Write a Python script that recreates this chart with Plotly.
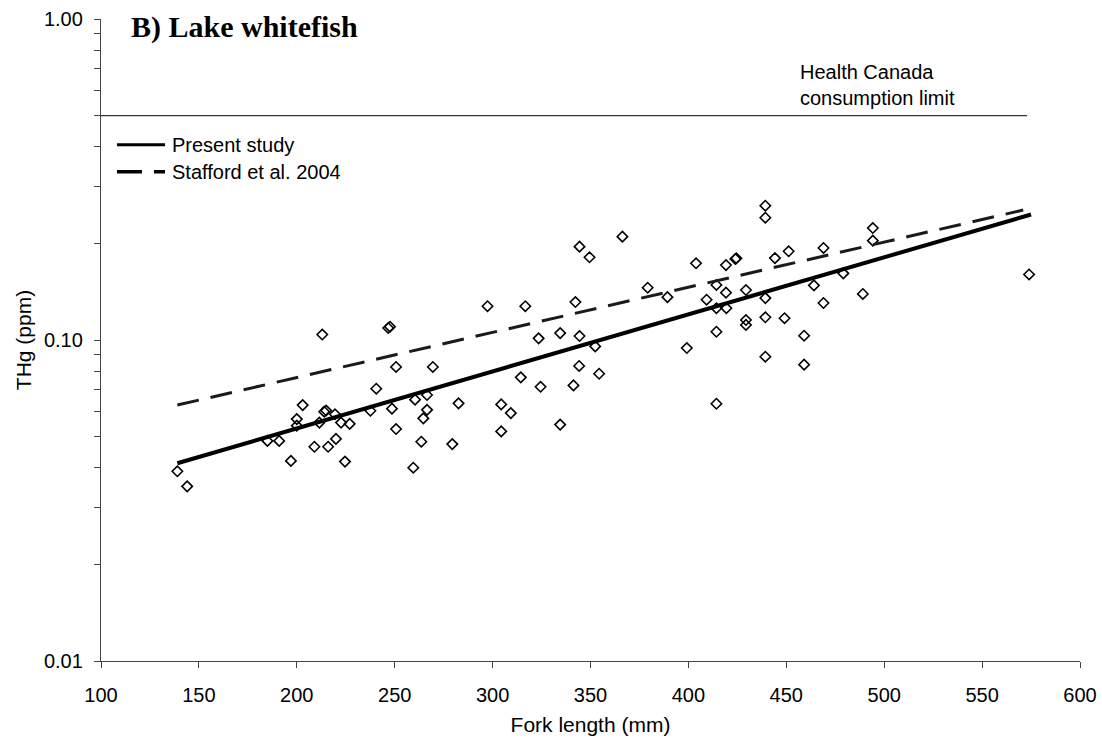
import math
import plotly.graph_objects as go

# Fork length (mm) and total mercury (ppm) of individual lake whitefish
fork_length = [139, 144, 185, 191, 197, 200, 200, 203, 209, 211.5, 213, 214, 215, 216,
               219.5, 220, 222.6, 224.6, 227, 237.6, 240.6, 246.7, 247.6, 248.6, 250.7,
               250.7, 259.5, 260.4, 263.6, 264.6, 266.5, 266.5, 269.5, 279.4, 282.6,
               297.4, 304.4, 304.4, 309.3, 314.4, 316.7, 323.5, 324.5, 334.5, 334.5,
               341.3, 342.3, 344.4, 344.4, 344.2, 349.5, 352.4, 354.4, 366.3, 379.2,
               389.3, 399.2, 403.9, 409.3, 414.3, 414.3, 414.3, 414.3, 419.2, 419.2,
               419.4, 424, 424.5, 429.4, 429.4, 429.4, 439.3, 439.3, 439.3, 439.3,
               439.3, 444.2, 449.1, 451.2, 459.1, 459.1, 464.1, 469.0, 469.0, 479.1,
               489.1, 494.2, 494.2, 574]
thg = [0.039, 0.035, 0.0485, 0.0485, 0.042, 0.0567, 0.0541, 0.0627, 0.0465, 0.0553,
       0.104, 0.0598, 0.0603, 0.0465, 0.0587, 0.0492, 0.0553, 0.0418, 0.0548, 0.0602,
       0.0705, 0.109, 0.110, 0.0611, 0.0824, 0.0528, 0.040, 0.0652, 0.0482, 0.0570,
       0.0674, 0.0606, 0.0824, 0.0474, 0.0635, 0.1274, 0.0630, 0.0519, 0.0592, 0.0765,
       0.1274, 0.1012, 0.0715, 0.1051, 0.0545, 0.0722, 0.1313, 0.1953, 0.1029, 0.0830,
       0.181, 0.0955, 0.0785, 0.2099, 0.1455, 0.136, 0.0944, 0.1734, 0.1335, 0.1484,
       0.1256, 0.1061, 0.0633, 0.1712, 0.1404, 0.1256, 0.1788, 0.1797, 0.1431, 0.1154,
       0.1114, 0.262, 0.2404, 0.1351, 0.1177, 0.0887, 0.180, 0.1169, 0.189, 0.1031,
       0.0838, 0.148, 0.1935, 0.1304, 0.1613, 0.1391, 0.2233, 0.2039, 0.160]

# Fitted length-mercury relationships (end points)
present_x = [139, 575]
present_y = [0.0413, 0.246]
stafford_x = [139, 571]
stafford_y = [0.0627, 0.254]

# Health Canada consumption guideline
limit_value = 0.5
limit_x = [100, 573]
limit_y = [limit_value, limit_value]

x_ticks = [100, 150, 200, 250, 300, 350, 400, 450, 500, 550, 600]
y_ticks = [0.01, 0.1, 1.0]
y_tick_text = ["0.01", "0.10", "1.00"]

legend_names = ["Present study", "Stafford et al. 2004"]

AXIS_COLOR = "#444444"
FONT = "Liberation Sans, Arial, sans-serif"

fig = go.Figure()

fig.add_trace(go.Scatter(
    x=fork_length, y=thg, mode="markers", showlegend=False,
    marker=dict(symbol="diamond-open", size=8, color="black",
                line=dict(width=1.6, color="black")),
    hoverinfo="x+y",
))

fig.add_trace(go.Scatter(
    x=limit_x, y=limit_y, mode="lines", showlegend=False,
    line=dict(color="#333333", width=1.3),
))

fig.add_trace(go.Scatter(
    x=present_x, y=present_y, mode="lines", name=legend_names[0], showlegend=False,
    line=dict(color="black", width=4),
))

fig.add_trace(go.Scatter(
    x=stafford_x, y=stafford_y, mode="lines", name=legend_names[1], showlegend=False,
    line=dict(color="#1a1a1a", width=3, dash="22px,12px"),
))

# Key drawn inside the upper-left corner of the plot
key_rows = [(0.804, "solid", 3), (0.762, "25px,12px", 3.6)]
for (ky, dash, width), name in zip(key_rows, legend_names):
    fig.add_shape(type="line", xref="paper", yref="paper",
                  x0=0.0163, x1=0.0654, y0=ky, y1=ky,
                  line=dict(color="black", width=width, dash=dash))
    fig.add_annotation(x=0.0705, y=ky, xref="paper", yref="paper",
                       xanchor="left", yanchor="middle", showarrow=False,
                       text=name, font=dict(family=FONT, size=20, color="black"))

fig.add_annotation(
    x=456, y=math.log10(limit_value), xref="x", yref="y",
    xanchor="left", yanchor="bottom", yshift=5, showarrow=False, align="left",
    text="Health Canada<br>consumption limit",
    font=dict(family=FONT, size=20, color="black"),
)

fig.add_annotation(
    x=0.0286, y=1.0, xref="paper", yref="paper", xanchor="left", yanchor="top",
    yshift=11, showarrow=False,
    text="<b>B) Lake whitefish</b>",
    font=dict(family="Liberation Serif, Times New Roman, serif", size=30, color="black"),
)

fig.update_layout(
    width=1102, height=740,
    margin=dict(l=101, r=22, t=19, b=79),
    paper_bgcolor="white", plot_bgcolor="white",
    font=dict(family=FONT, size=20, color="black"),
    showlegend=False,
)

fig.update_xaxes(
    range=[100, 600], tickvals=x_ticks, ticks="outside", ticklen=6,
    tickcolor=AXIS_COLOR, showline=True, linecolor=AXIS_COLOR, linewidth=1.3,
    showgrid=False, zeroline=False, tickfont=dict(size=20), ticklabelstandoff=10,
    automargin=False,
    title=dict(text="Fork length (mm)", font=dict(size=21), standoff=12),
)

fig.update_yaxes(
    type="log", range=[-2, 0], tickvals=y_ticks, ticktext=y_tick_text,
    ticks="outside", ticklen=6, tickcolor=AXIS_COLOR,
    showline=True, linecolor=AXIS_COLOR, linewidth=1.3,
    showgrid=False, zeroline=False, tickfont=dict(size=20), ticklabelstandoff=7,
    automargin=False,
    minor=dict(ticks="outside", ticklen=6, dtick="D1", tickcolor=AXIS_COLOR,
               showgrid=False),
    title=dict(text="THg (ppm)", font=dict(size=21), standoff=6),
)

fig.write_html("out.html")
